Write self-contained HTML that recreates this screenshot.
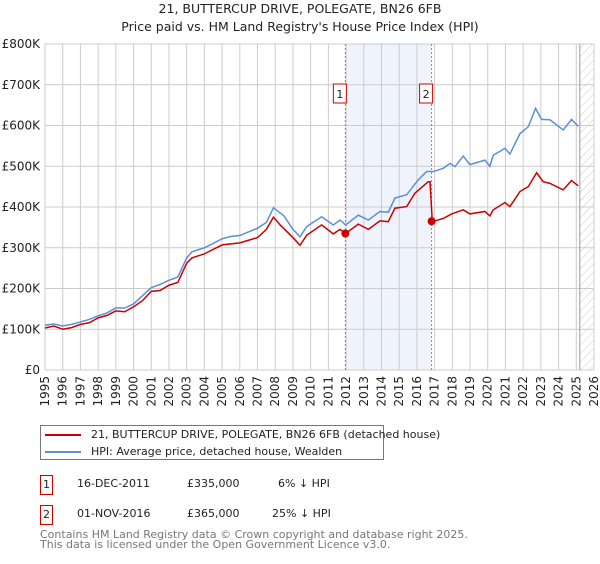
<!DOCTYPE html>
<html><head><meta charset="utf-8"><style>
body{margin:0;background:#fff;font-family:"DejaVu Sans","Liberation Sans",sans-serif;}
svg text{font-family:"DejaVu Sans","Liberation Sans",sans-serif;}
</style></head><body>
<svg id="chart" width="600" height="560" viewBox="0 0 600 560" xmlns="http://www.w3.org/2000/svg">
<defs><pattern id="hatch" width="6" height="6" patternUnits="userSpaceOnUse" patternTransform="rotate(45)"><line x1="0" y1="0" x2="0" y2="6" stroke="#ccc" stroke-width="1"/></pattern></defs>
<text x="300" y="13" text-anchor="middle" font-size="12.5" fill="#222">21, BUTTERCUP DRIVE, POLEGATE, BN26 6FB</text>
<text x="300" y="31" text-anchor="middle" font-size="12.5" fill="#222">Price paid vs. HM Land Registry's House Price Index (HPI)</text>
<g id="grid"></g><g id="marks"></g><g id="axes"></g>
</svg>
<script>
const yTicks=[0,100000,200000,300000,400000,500000,600000,700000,800000];
const yTickLabels=["£0","£100K","£200K","£300K","£400K","£500K","£600K","£700K","£800K"];
const xTicks=[1995,1996,1997,1998,1999,2000,2001,2002,2003,2004,2005,2006,2007,2008,2009,2010,2011,2012,2013,2014,2015,2016,2017,2018,2019,2020,2021,2022,2023,2024,2025,2026];
const hpiYears=[1995,1995.5,1996,1996.5,1997,1997.5,1998,1998.5,1999,1999.5,2000,2000.5,2001,2001.5,2002,2002.5,2003,2003.3,2004,2005,2005.5,2006,2007,2007.5,2007.9,2008.5,2009.0,2009.4,2009.78,2010.62,2011.28,2011.66,2011.98,2012.69,2013.26,2013.91,2014.38,2014.76,2015.42,2016.08,2016.55,2016.93,2017.49,2017.87,2018.15,2018.62,2018.99,2019.84,2020.12,2020.31,2020.97,2021.25,2021.82,2022.29,2022.70,2023.04,2023.51,2024.26,2024.73,2025.11];
const hpiValues=[110000,113000,108000,112000,118000,124000,133000,140000,152000,152000,162000,182000,202000,210000,220000,228000,275000,290000,300000,322000,328000,330000,348000,362000,398000,378000,345000,327000,352000,376000,356000,368000,356000,380000,368000,389000,387000,422000,430000,467000,487000,487000,495000,507000,499000,525000,504000,515000,500000,527000,544000,530000,580000,597000,642000,615000,614000,589000,615000,598000];
const ppYears=[1995,1995.5,1996,1996.5,1997,1997.5,1998,1998.5,1999,1999.5,2000,2000.5,2001,2001.5,2002,2002.5,2003,2003.3,2004,2005,2006,2007,2007.5,2007.9,2008.3,2009.0,2009.4,2009.78,2010.62,2011.28,2011.66,2011.98,2012.69,2013.26,2013.91,2014.38,2014.76,2015.42,2015.89,2016.64,2016.74,2016.87,2017.49,2017.96,2018.62,2018.99,2019.84,2020.12,2020.31,2020.97,2021.25,2021.82,2022.29,2022.76,2023.13,2023.51,2024.26,2024.73,2025.11];
const ppValues=[103000,108000,100000,104000,112000,116000,128000,134000,145000,143000,155000,170000,193000,195000,208000,215000,262000,275000,285000,307000,312000,325000,345000,375000,355000,325000,306000,331000,356000,334000,345000,335000,358000,345000,366000,364000,397000,401000,434000,462000,462000,364000,372000,383000,393000,383000,389000,378000,393000,411000,401000,438000,450000,484000,462000,458000,442000,465000,452000];
const saleYears=[2011.96,2016.83];
const saleValues=[335000,365000];
const saleLabels=["1","2"];

const X0=45,X1=594,Y0=370,Y1=44;
const xs=y=>X0+(y-1995)/(2026-1995)*(X1-X0);
const ys=v=>Y0-v/800000*(Y0-Y1);
const NS="http://www.w3.org/2000/svg";
function mk(parent,tag,attrs){const e=document.createElementNS(NS,tag);for(const k in attrs)e.setAttribute(k,attrs[k]);parent.appendChild(e);return e;}
const grid=document.getElementById('grid'),marks=document.getElementById('marks'),axes=document.getElementById('axes');

const shade=mk(grid,'rect',{x:xs(saleYears[0]),y:Y1,width:xs(saleYears[1])-xs(saleYears[0]),height:Y0-Y1,fill:'#eef3fc'});


const hatch=mk(grid,'rect',{x:xs(2025.2),y:Y1,width:X1-xs(2025.2),height:Y0-Y1,fill:'url(#hatch)'});



yTicks.forEach((t,i)=>{
  const l=mk(grid,'line',{x1:X0,x2:X1,y1:ys(t),y2:ys(t),stroke:'#ccc','stroke-width':1});
  
  
  const tx=mk(axes,'text',{x:40,y:ys(t)+4,'text-anchor':'end','font-size':12,fill:'#222'});
  tx.textContent=yTickLabels[i];
  
  
});
xTicks.forEach(t=>{
  const l=mk(grid,'line',{x1:xs(t),x2:xs(t),y1:Y1,y2:Y0,stroke:'#ccc','stroke-width':1});
  
  
  const tx=mk(axes,'text',{transform:`translate(${xs(t)+4},376) rotate(-90)`,'text-anchor':'end','font-size':12,fill:'#222'});
  tx.textContent=t;
  
  
});
const vl=mk(grid,'line',{x1:xs(2025.2),x2:xs(2025.2),y1:Y1,y2:Y0,stroke:'#999','stroke-width':1});



saleYears.forEach((y,i)=>{
  const l=mk(marks,'line',{x1:xs(y),x2:xs(y),y1:Y1,y2:Y0,stroke:'#e06060','stroke-width':1,'stroke-dasharray':'2,2'});
  
  
});

const hp=mk(marks,'polyline',{points:hpiYears.map((y,i)=>xs(y)+','+ys(hpiValues[i])).join(' '),fill:'none',stroke:'#5b8ed6','stroke-width':1.5});


const pp=mk(marks,'polyline',{points:ppYears.map((y,i)=>xs(y)+','+ys(ppValues[i])).join(' '),fill:'none',stroke:'#cc0000','stroke-width':1.5});



saleYears.forEach((y,i)=>{
  const c=mk(marks,'circle',{cx:xs(y),cy:ys(saleValues[i]),r:4,fill:'#cc0000'});
  
  
  const r=mk(marks,'rect',{x:xs(y)-12,y:84,width:13,height:19,fill:'#fff',stroke:'#cc0000','stroke-width':1});
  
  
  const t=mk(marks,'text',{x:xs(y)-5.5,y:98,'text-anchor':'middle','font-size':11,fill:'#222'});
  t.textContent=saleLabels[i];
  
  
});
</script>
<div style="position:absolute;left:40px;top:425px;width:344px;height:35px;border:1px solid #777;box-sizing:border-box;font-size:11px;color:#222;">
  <div style="position:absolute;left:4px;top:2px;white-space:nowrap;"><span style="display:inline-block;width:36px;height:2px;background:#cc0000;vertical-align:middle;margin-right:10px;"></span>21, BUTTERCUP DRIVE, POLEGATE, BN26 6FB (detached house)</div>
  <div style="position:absolute;left:4px;top:19px;white-space:nowrap;"><span style="display:inline-block;width:36px;height:2px;background:#5b8ed6;vertical-align:middle;margin-right:10px;"></span>HPI: Average price, detached house, Wealden</div>
</div>
<div style="position:absolute;left:40px;top:475px;font-size:11px;color:#222;">
  <div style="position:relative;height:30px;">
    <span style="position:absolute;left:0;top:0;width:11px;height:18px;border:1px solid #cc0000;text-align:center;line-height:18px;">1</span>
    <span style="position:absolute;left:37px;top:2px;white-space:nowrap;">16-DEC-2011</span>
    <span style="position:absolute;left:147px;top:2px;">£335,000</span>
    <span style="position:absolute;left:238px;top:2px;white-space:nowrap;">6% ↓ HPI</span>
  </div>
  <div style="position:relative;height:30px;">
    <span style="position:absolute;left:0;top:0;width:11px;height:18px;border:1px solid #cc0000;text-align:center;line-height:18px;">2</span>
    <span style="position:absolute;left:37px;top:2px;white-space:nowrap;">01-NOV-2016</span>
    <span style="position:absolute;left:147px;top:2px;">£365,000</span>
    <span style="position:absolute;left:232px;top:2px;white-space:nowrap;">25% ↓ HPI</span>
  </div>
</div>
<div style="position:absolute;left:40px;top:530px;font-size:11px;line-height:10px;color:#777;white-space:nowrap;">Contains HM Land Registry data © Crown copyright and database right 2025.<br>This data is licensed under the Open Government Licence v3.0.</div>
</body></html>
